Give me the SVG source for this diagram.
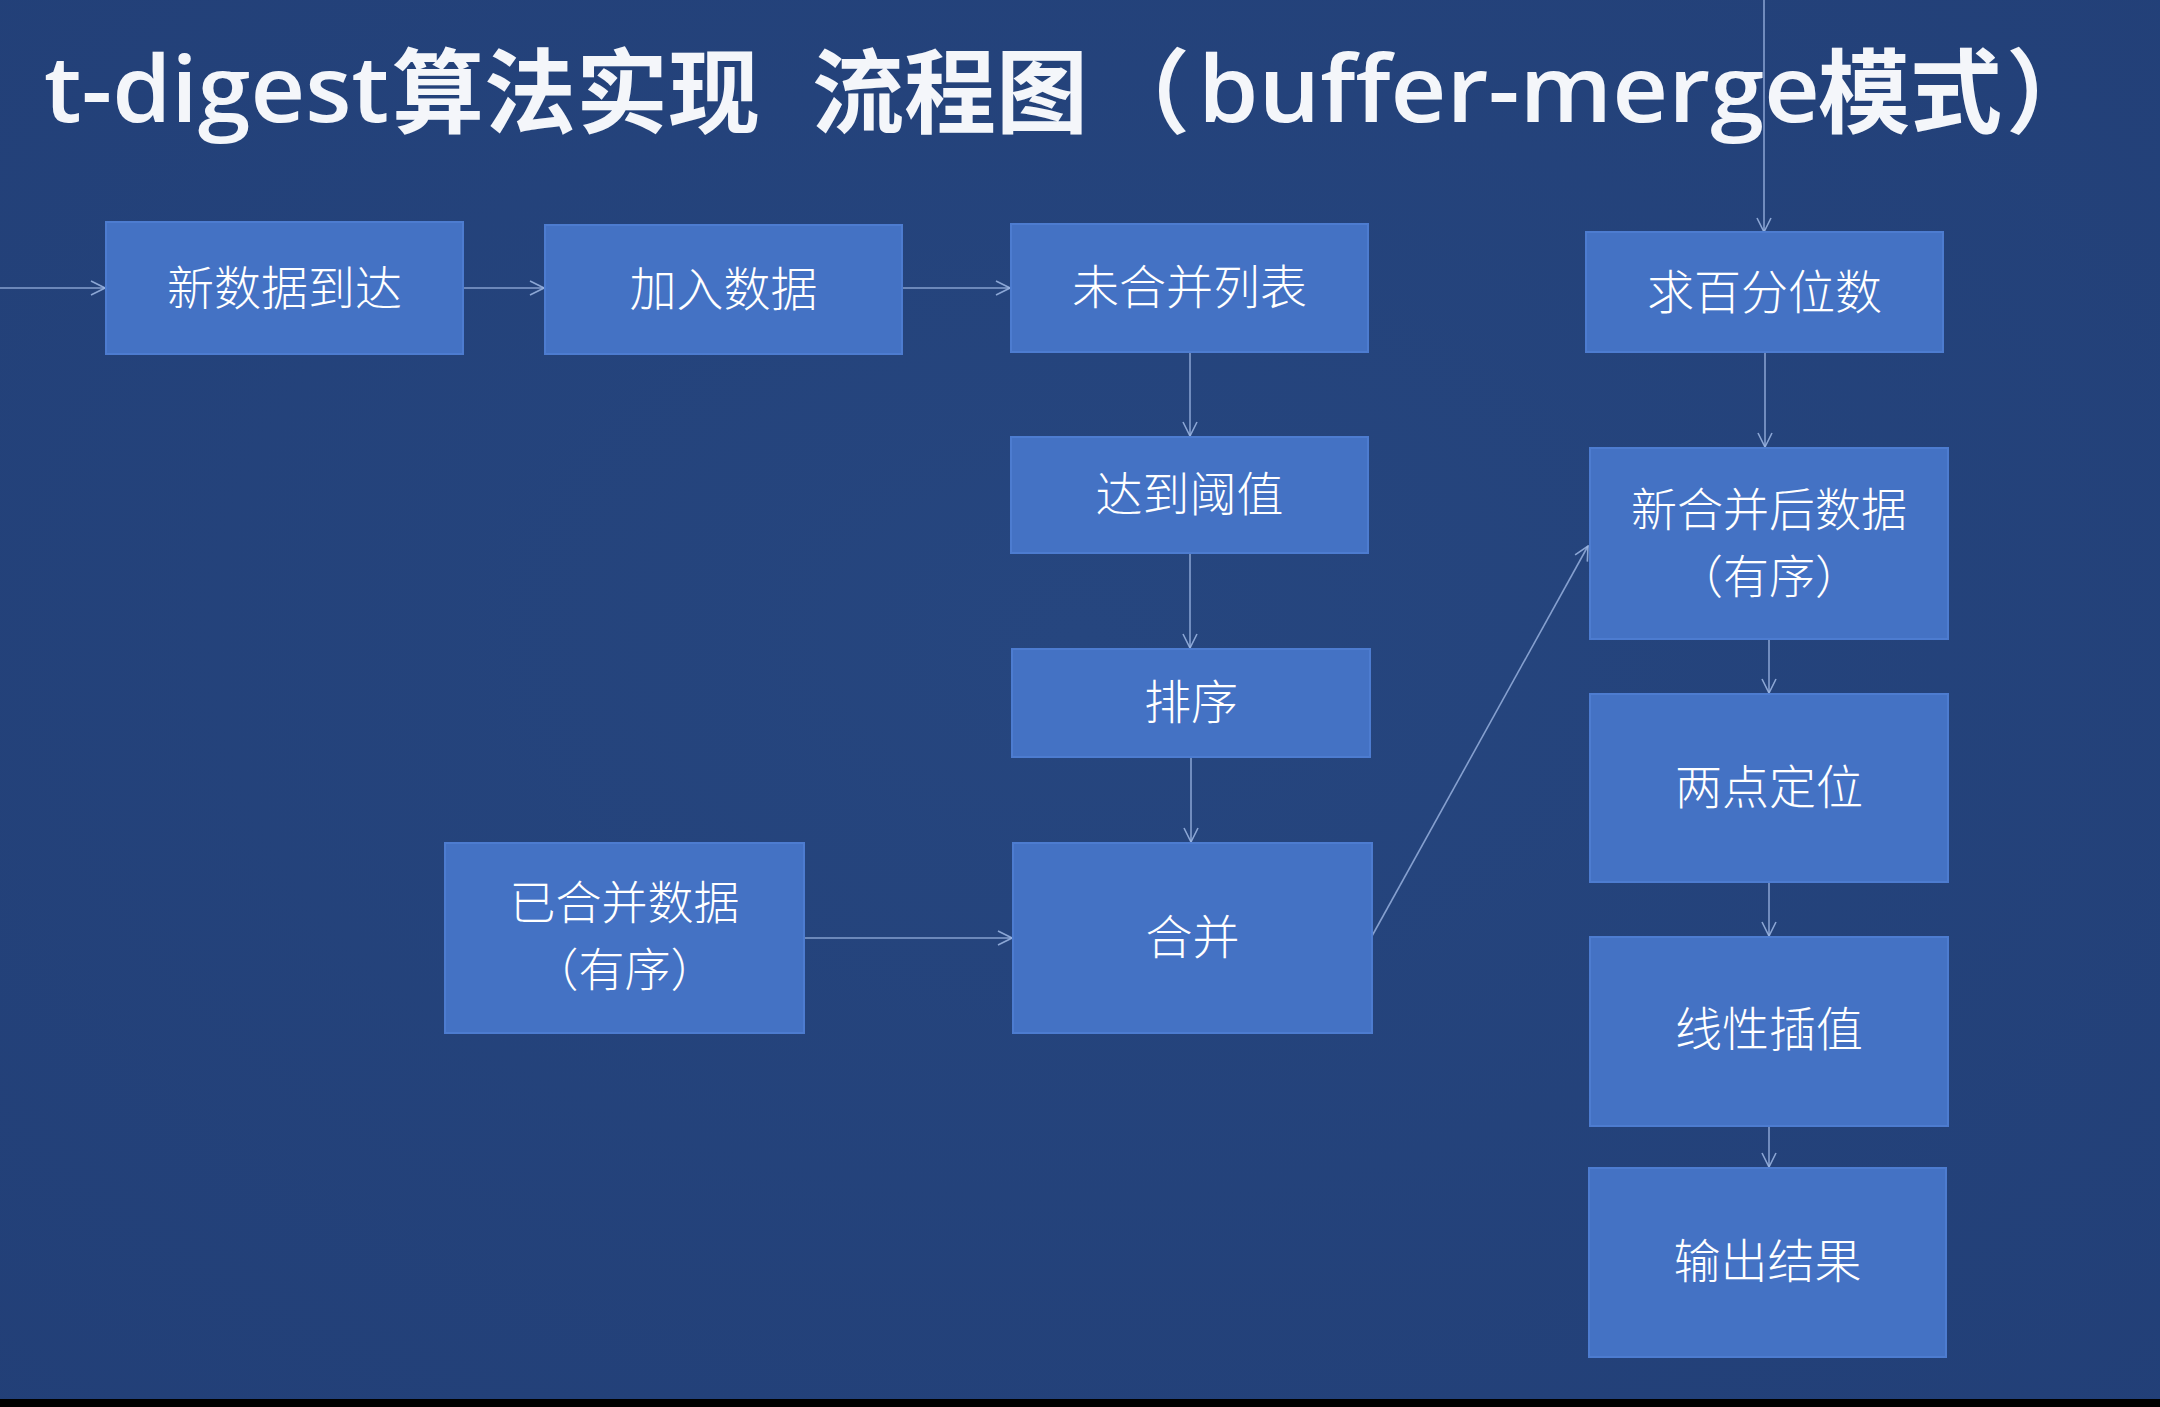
<svg xmlns="http://www.w3.org/2000/svg" width="2160" height="1407" viewBox="0 0 2160 1407">
  <defs>
    <style>
      .title { font-family: "Noto Sans CJK SC", "Liberation Sans", sans-serif; font-size: 92px; font-weight: 700; fill: #f4f6fa; }
      .latin { font-family: "Open Sans", "Liberation Sans", "Noto Sans CJK SC", sans-serif; font-size: 92px; font-weight: 600; fill: #f4f6fa; }
      .box { fill: #4472c4; stroke: #4d7cd0; stroke-width: 2; }
      .label { font-family: "Noto Sans CJK SC", "Liberation Sans", sans-serif; font-size: 47px; font-weight: 300; fill: #ffffff; text-anchor: middle; }
      .label2 { font-size: 46px; }
      .conn { fill: none; stroke: #9db7e4; stroke-opacity: 0.8; stroke-width: 1.6; marker-end: url(#arrow); }
    </style>
    <marker id="arrow" viewBox="0 0 16 16" refX="15" refY="8" markerWidth="16" markerHeight="16" markerUnits="userSpaceOnUse" orient="auto">
      <path d="M1,1 L15,8 L1,15" fill="none" stroke="#9db7e4" stroke-opacity="0.85" stroke-width="1.6"/>
    </marker>
    <radialGradient id="bg" cx="0.5" cy="0.45" r="0.8">
      <stop offset="0" stop-color="#26467f"/>
      <stop offset="1" stop-color="#223f77"/>
    </radialGradient>
  </defs>

  <rect x="0" y="0" width="2160" height="1407" fill="url(#bg)"/>
  <rect x="0" y="1399" width="2160" height="8" fill="#000000"/>

  <g id="connectors">
    <path class="conn" d="M0,288 L105,288"/>
    <path class="conn" d="M463,288 L544,288"/>
    <path class="conn" d="M902,288 L1010,288"/>
    <path class="conn" d="M1190,352 L1190,436"/>
    <path class="conn" d="M1190,554 L1190,648"/>
    <path class="conn" d="M1191,758 L1191,842"/>
    <path class="conn" d="M804,938 L1012,938"/>
    <path class="conn" d="M1372,936 L1588,546"/>
    <path class="conn" d="M1764,0 L1764,232"/>
    <path class="conn" d="M1765,352 L1765,447"/>
    <path class="conn" d="M1769,639 L1769,693"/>
    <path class="conn" d="M1769,882 L1769,936"/>
    <path class="conn" d="M1769,1126 L1769,1167"/>
  </g>

  <g id="title">
    <text class="latin" x="44" y="122" textLength="345" lengthAdjust="spacingAndGlyphs">t-digest</text>
    <text class="title" x="392" y="126">算法实现</text>
    <text class="title" x="812" y="126">流程图</text>
    <text class="title" x="1098" y="126">（</text>
    <text class="latin" x="1198" y="122" textLength="622" lengthAdjust="spacingAndGlyphs">buffer-merge</text>
    <text class="title" x="1818" y="126">模式</text>
    <text class="title" x="2006" y="126">）</text>
  </g>

  <g id="node-new-data">
    <rect class="box" x="106" y="222" width="357" height="132"/>
    <text class="label" x="284.5" y="305">新数据到达</text>
  </g>
  <g id="node-add-data">
    <rect class="box" x="545" y="225" width="357" height="129"/>
    <text class="label" x="723.5" y="306">加入数据</text>
  </g>
  <g id="node-unmerged-list">
    <rect class="box" x="1011" y="224" width="357" height="128"/>
    <text class="label" x="1189.5" y="304">未合并列表</text>
  </g>
  <g id="node-percentile">
    <rect class="box" x="1586" y="232" width="357" height="120"/>
    <text class="label" x="1764.5" y="309">求百分位数</text>
  </g>
  <g id="node-threshold">
    <rect class="box" x="1011" y="437" width="357" height="116"/>
    <text class="label" x="1189.5" y="511">达到阈值</text>
  </g>
  <g id="node-sort">
    <rect class="box" x="1012" y="649" width="358" height="108"/>
    <text class="label" x="1191" y="719">排序</text>
  </g>
  <g id="node-merge">
    <rect class="box" x="1013" y="843" width="359" height="190"/>
    <text class="label" x="1192.5" y="954">合并</text>
  </g>
  <g id="node-merged-data">
    <rect class="box" x="445" y="843" width="359" height="190"/>
    <text class="label label2" x="624.5" y="919">已合并数据<tspan x="624.5" dy="67">（有序）</tspan></text>
  </g>
  <g id="node-new-merged-data">
    <rect class="box" x="1590" y="448" width="358" height="191"/>
    <text class="label label2" x="1769" y="526">新合并后数据<tspan x="1769" dy="67">（有序）</tspan></text>
  </g>
  <g id="node-locate">
    <rect class="box" x="1590" y="694" width="358" height="188"/>
    <text class="label" x="1769" y="804">两点定位</text>
  </g>
  <g id="node-interpolate">
    <rect class="box" x="1590" y="937" width="358" height="189"/>
    <text class="label" x="1769" y="1046">线性插值</text>
  </g>
  <g id="node-output">
    <rect class="box" x="1589" y="1168" width="357" height="189"/>
    <text class="label" x="1767.5" y="1278">输出结果</text>
  </g>
</svg>
